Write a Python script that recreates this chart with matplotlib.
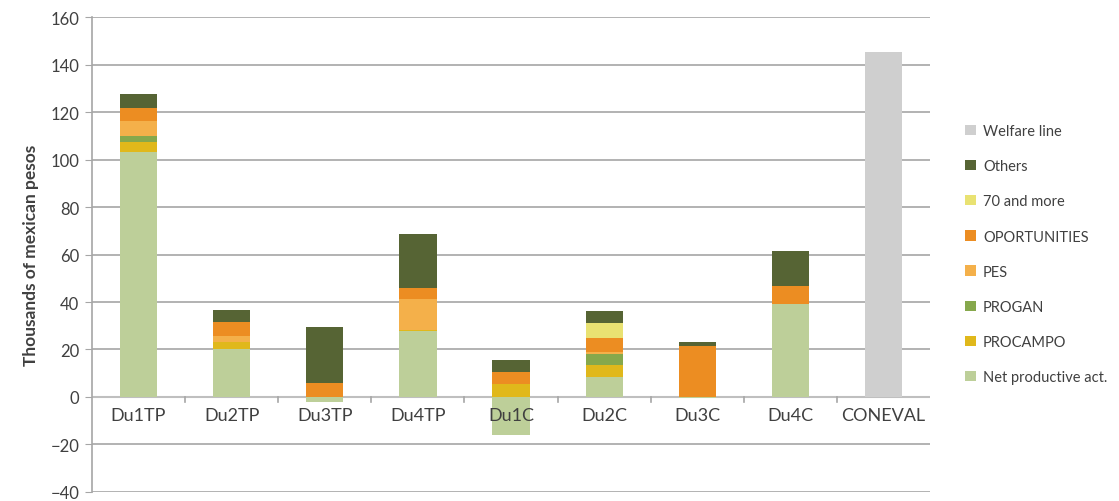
import matplotlib
matplotlib.use("Agg")
import matplotlib.pyplot as plt
import numpy as np

categories = ["Du1TP", "Du2TP", "Du3TP", "Du4TP", "Du1C", "Du2C", "Du3C", "Du4C", "CONEVAL"]
net_productive = [103.0, 20.0, -2.0, 27.6, -16.0, 8.5, -0.5, 39.2, 0.0]
procampo = [4.5, 3.0, 0.0, 0.5, 5.5, 4.8, 0.0, 0.0, 0.0]
progan = [2.3, 0.0, 0.0, 0.0, 0.0, 5.0, 0.0, 0.0, 0.0]
pes = [6.6, 2.8, 0.0, 13.2, 0.0, 0.5, 0.0, 0.0, 0.0]
oportunities = [5.1, 5.9, 5.9, 4.5, 5.2, 6.2, 21.3, 7.4, 0.0]
seventy_more = [0.0, 0.0, 0.0, 0.0, 0.0, 6.0, 0.0, 0.0, 0.0]
others = [6.1, 5.1, 23.7, 23.0, 5.0, 5.4, 1.7, 14.9, 0.0]
welfare_line = [0.0, 0.0, 0.0, 0.0, 0.0, 0.0, 0.0, 0.0, 145.5]

series = [
    ("Net productive act.", net_productive, "#BDCF99"),
    ("PROCAMPO", procampo, "#E0B81B"),
    ("PROGAN", progan, "#86A84C"),
    ("PES", pes, "#F4B04A"),
    ("OPORTUNITIES", oportunities, "#EC8D22"),
    ("70 and more", seventy_more, "#E9E272"),
    ("Others", others, "#566434"),
    ("Welfare line", welfare_line, "#CFCFCF"),
]

plt.rcParams['font.family'] = ['Lato', 'DejaVu Sans']
fig = plt.figure(figsize=(11.19, 5.02), dpi=100)
ax = fig.add_axes([0.0822, 0.018, 0.749, 0.946])

x = np.arange(len(categories))
pos_bottom = np.zeros(len(categories))
neg_bottom = np.zeros(len(categories))
handles = []
for name, vals, col in series:
    v = np.array(vals, dtype=float)
    bottoms = np.where(v >= 0, pos_bottom, neg_bottom)
    h = ax.bar(x, v, 0.4, bottom=bottoms, color=col, label=name, zorder=3, linewidth=0)
    handles.append(h)
    pos_bottom = pos_bottom + np.where(v > 0, v, 0)
    neg_bottom = neg_bottom + np.where(v < 0, v, 0)

ax.set_xlim(-0.5, len(categories) - 0.5)
ax.set_ylim(-40, 160)
ax.set_yticks(np.arange(-40, 161, 20))
ax.yaxis.grid(True, color="#A6A6A6", linewidth=1.2, zorder=0)
ax.set_axisbelow(True)
for s in ["top", "right", "bottom"]:
    ax.spines[s].set_visible(False)
ax.spines["left"].set_color("#A6A6A6")
ax.spines["left"].set_linewidth(1.2)
ax.tick_params(axis="y", length=5, color="#A6A6A6", labelsize=12, labelcolor="#404040", pad=4)
ax.set_xticks([])

# zero axis line with category tick marks
ax.axhline(0, color="#BFBFBF", linewidth=1.5, zorder=2)
for b in x[:-1] + 0.5:
    ax.plot([b, b], [0, -2.2], color="#A6A6A6", linewidth=1.2, zorder=2)
for xi, lab in zip(x, categories):
    ax.annotate(lab, (xi, 0), xytext=(0, -7), textcoords="offset points",
                ha="center", va="top", fontsize=13, color="#404040", zorder=5)

ax.set_ylabel("Thousands of mexican pesos", fontsize=12.5, fontweight="bold", color="#404040", labelpad=8)

leg = fig.legend(handles[::-1], [s[0] for s in series][::-1], loc="upper left",
                 bbox_to_anchor=(0.851, 0.777), frameon=False, fontsize=10.5,
                 handlelength=0.7, handleheight=0.7, handletextpad=0.5, labelspacing=1.45)
for t in leg.get_texts():
    t.set_color("#404040")

fig.savefig("out.png", dpi=100)
